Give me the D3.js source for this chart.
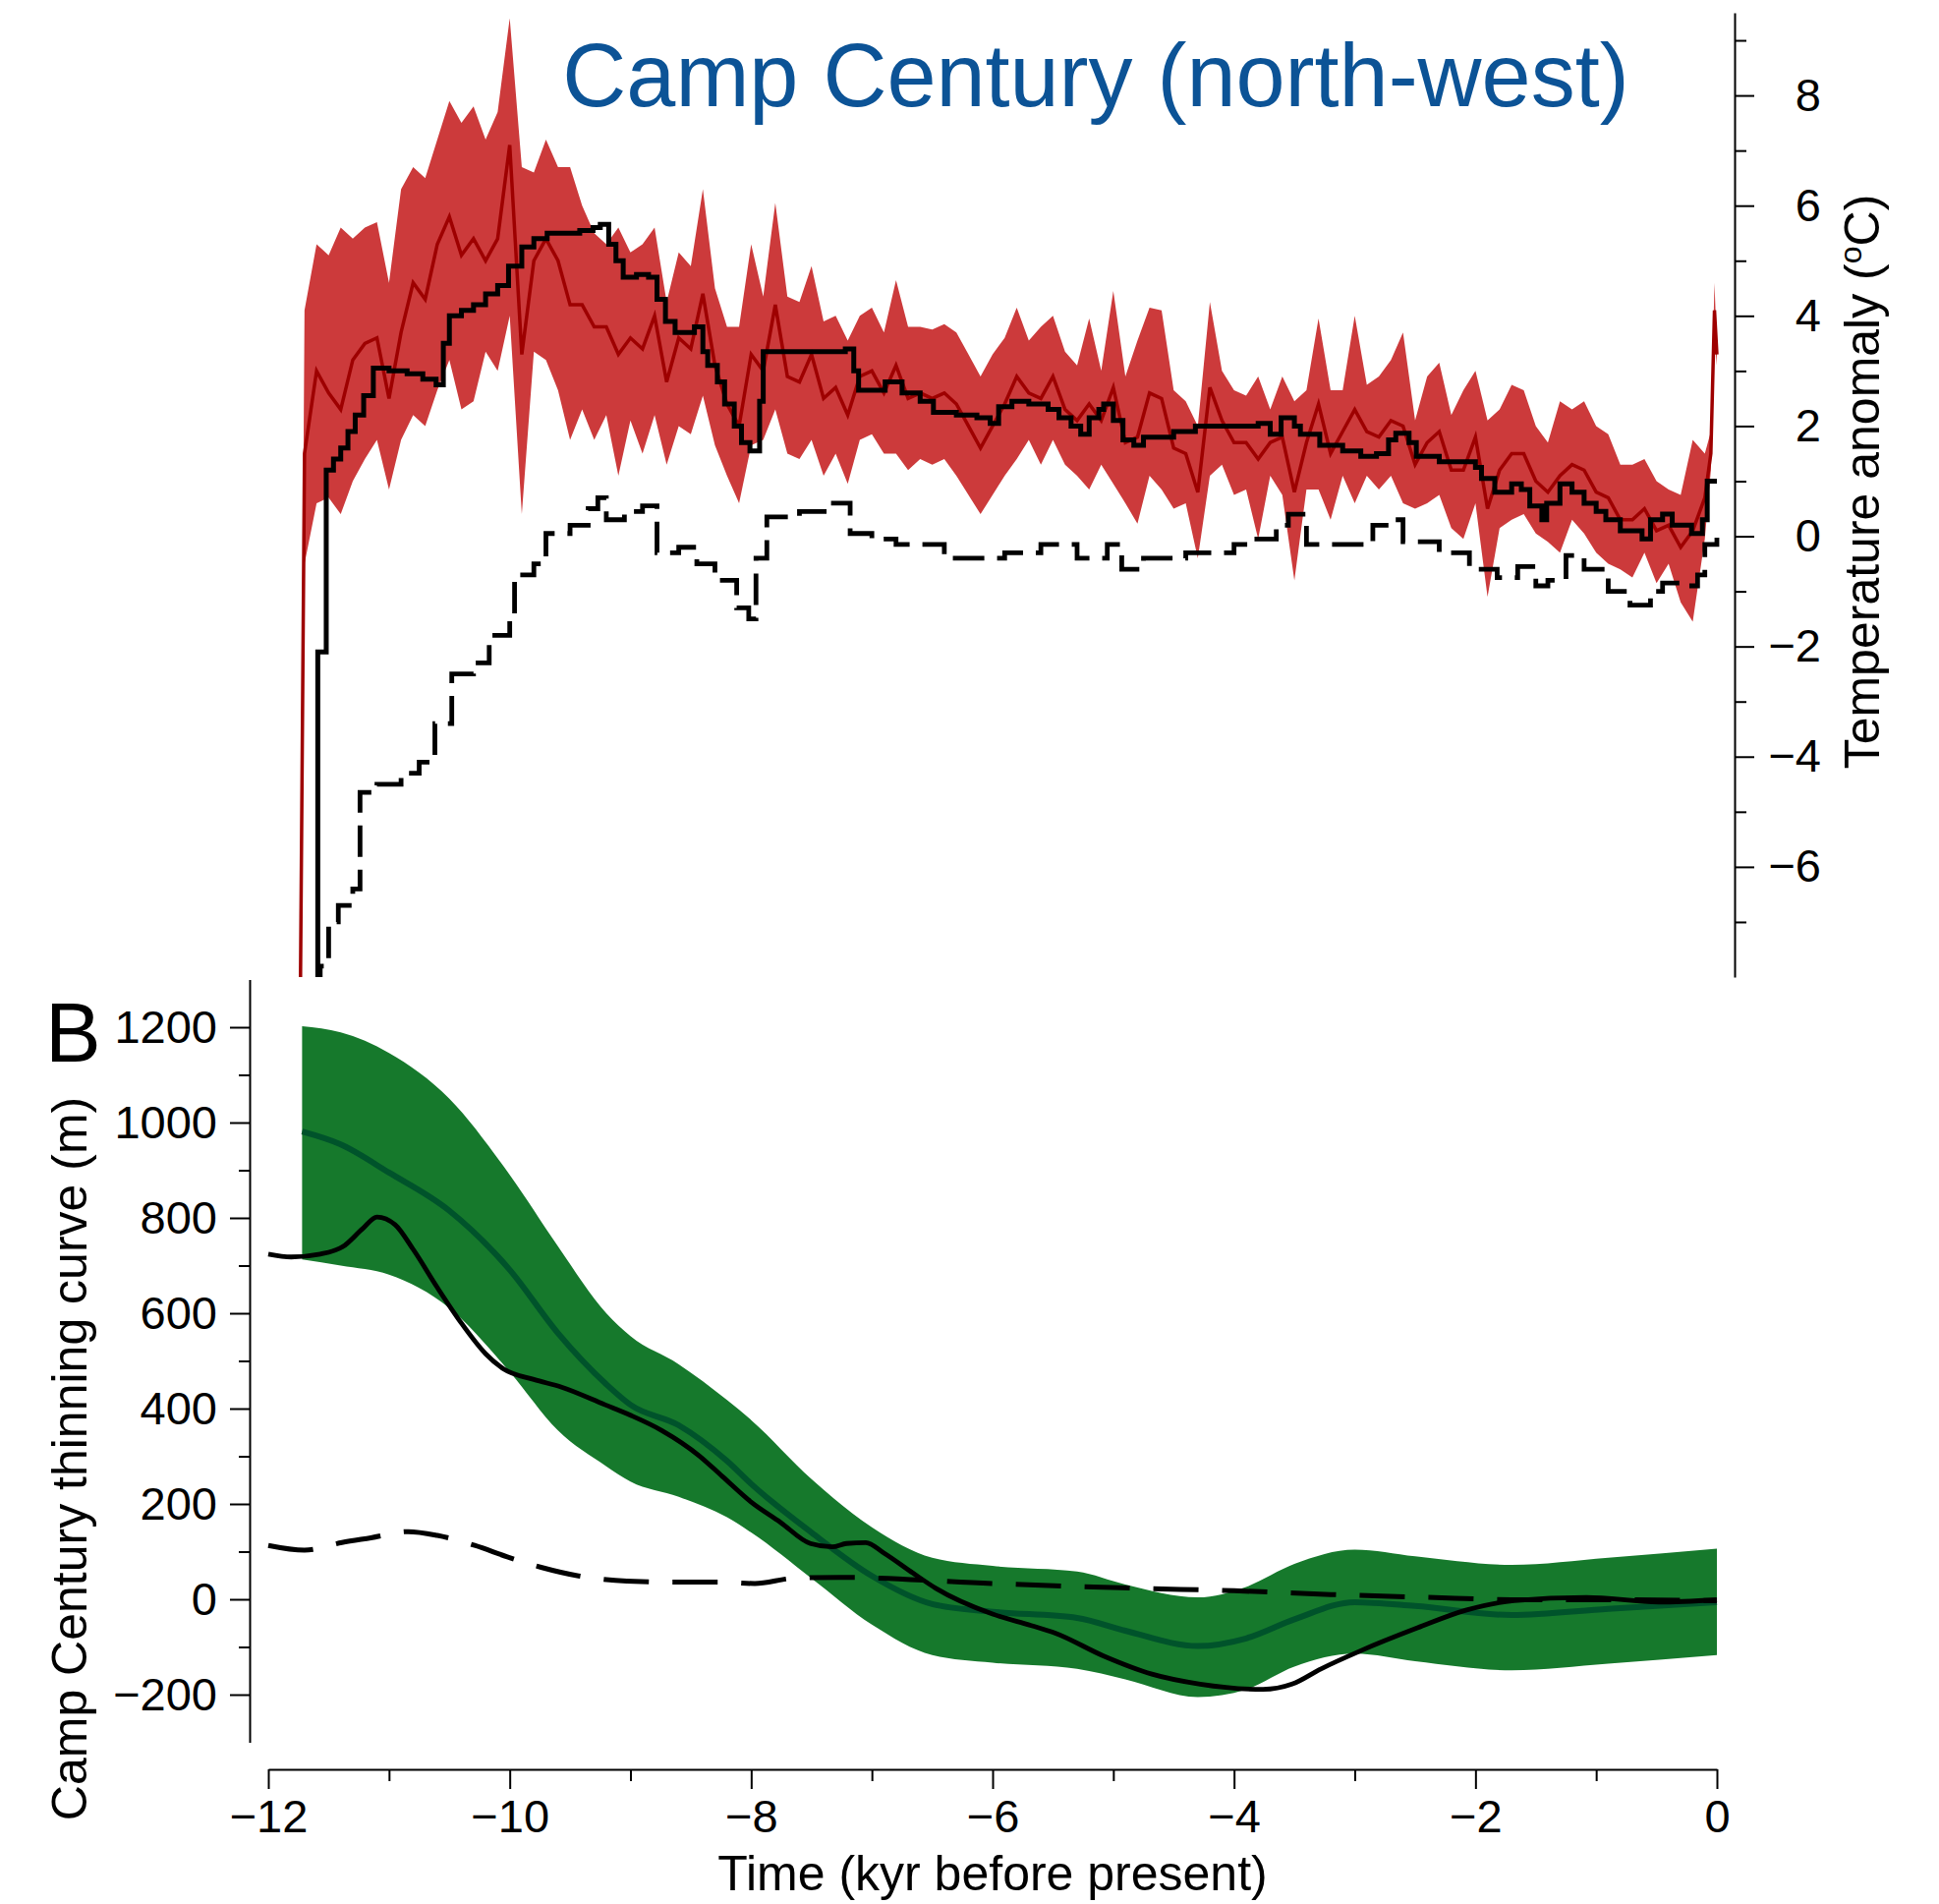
<!DOCTYPE html>
<html>
<head>
<meta charset="utf-8">
<script src="https://cdn.jsdelivr.net/npm/d3@7"></script>
<style>
  body { margin: 0; background: #fff; }
  text { font-family: "Liberation Sans", Arial, sans-serif; }
</style>
</head>
<body>
<script>
// ---- panel A: temperature reconstruction (red band, kyr BP) ----
const redTime = [
  -11.74, -11.7, -11.6, -11.5, -11.4, -11.3, -11.2, -11.1, -11.0,
  -10.9, -10.8, -10.7, -10.6, -10.5, -10.4, -10.3, -10.2, -10.1, -10.0,
  -9.9, -9.8, -9.7, -9.6, -9.5, -9.4, -9.3, -9.2, -9.1, -9.0,
  -8.9, -8.8, -8.7, -8.6, -8.5, -8.4, -8.3, -8.2, -8.1, -8.0,
  -7.9, -7.8, -7.7, -7.6, -7.5, -7.4, -7.3, -7.2, -7.1, -7.0,
  -6.9, -6.8, -6.7, -6.6, -6.5, -6.4, -6.3, -6.2, -6.1, -6.0,
  -5.9, -5.8, -5.7, -5.6, -5.5, -5.4, -5.3, -5.2, -5.1, -5.0,
  -4.9, -4.8, -4.7, -4.6, -4.5, -4.4, -4.3, -4.2, -4.1, -4.0,
  -3.9, -3.8, -3.7, -3.6, -3.5, -3.4, -3.3, -3.2, -3.1, -3.0,
  -2.9, -2.8, -2.7, -2.6, -2.5, -2.4, -2.3, -2.2, -2.1, -2.0,
  -1.9, -1.8, -1.7, -1.6, -1.5, -1.4, -1.3, -1.2, -1.1, -1.0,
  -0.9, -0.8, -0.7, -0.6, -0.5, -0.4, -0.3, -0.2, -0.1, -0.05, -0.02, 0
]
const redUpper = [
  -9, 4.1, 5.3, 5.1, 5.6, 5.4, 5.6, 5.7, 4.6,
  6.3, 6.7, 6.5, 7.2, 7.9, 7.5, 7.8, 7.2, 7.7, 9.4,
  6.7, 6.6, 7.2, 6.7, 6.7, 6.0, 5.5, 5.3, 5.6, 5.15,
  5.3, 5.6, 4.25, 5.15, 4.9, 6.3, 4.5, 3.8, 3.8, 5.3,
  4.35, 6.05, 4.35, 4.25, 4.9, 3.9, 4.0, 3.55, 4.0, 4.15,
  3.7, 4.65, 3.8, 3.8, 3.75, 3.85, 3.7, 3.3, 2.9, 3.3,
  3.6, 4.15, 3.55, 3.8, 4.0, 3.35, 3.1, 3.95, 3.0, 4.45,
  2.9, 3.55, 4.15, 4.1, 2.65, 2.45, 2.0, 4.25, 3.0, 2.65,
  2.55, 2.9, 2.3, 2.9, 2.45, 2.65, 3.95, 2.65, 2.65, 4.0,
  2.75, 2.9, 3.2, 3.7, 2.1, 2.9, 3.15, 2.2, 2.65, 3.0,
  2.1, 2.3, 2.75, 2.65, 2.0, 1.7, 2.45, 2.3, 2.45, 2.0,
  1.85, 1.3, 1.3, 1.4, 1.0, 0.85, 0.75, 1.75, 1.5, 1.9, 4.6, 3.4
]
const redMean = [
  -10, 1.5, 3.0, 2.6, 2.3, 3.2, 3.5, 3.6, 2.5,
  3.7, 4.6, 4.3, 5.3, 5.8, 5.1, 5.4, 5.0, 5.4, 7.1,
  3.3, 5.0, 5.4, 5.0, 4.2, 4.2, 3.8, 3.8, 3.3, 3.6,
  3.4, 4.0, 2.8, 3.6, 3.4, 4.4, 3.1, 2.4, 2.0, 3.3,
  3.0, 4.2, 2.9, 2.8, 3.3, 2.5, 2.7, 2.2, 2.9, 3.0,
  2.6, 3.1, 2.5, 2.6, 2.5, 2.6, 2.4, 2.0, 1.6, 2.0,
  2.4, 2.9, 2.6, 2.5, 2.9, 2.3, 2.1, 2.4, 2.1, 2.7,
  1.7, 1.8, 2.6, 2.5, 1.6, 1.5, 0.8, 2.7, 2.1, 1.7,
  1.7, 1.4, 1.7, 1.8, 0.8, 1.7, 2.4, 1.5, 1.9, 2.3,
  1.9, 1.8, 2.1, 2.0, 1.3, 1.7, 1.9, 1.2, 1.2, 1.8,
  0.5, 1.2, 1.5, 1.5, 1.0, 0.8, 1.1, 1.3, 1.2, 0.8,
  0.7, 0.3, 0.3, 0.5, 0.1, 0.2, -0.2, 0.1, 0.7, 1.5, 4.1, 3.3
]
const redLower = [
  -11, -0.5, 0.6, 0.7, 0.4, 1.0, 1.4, 1.75, 0.85,
  1.75, 2.2, 2.0, 2.65, 3.2, 2.3, 2.45, 3.35, 3.0, 4.0,
  0.4, 3.35, 3.2, 2.65, 1.75, 2.3, 1.75, 2.2, 1.1, 2.1,
  1.5, 2.2, 1.3, 2.0, 1.85, 2.55, 1.65, 1.1, 0.6, 1.65,
  1.75, 2.3, 1.5, 1.4, 1.75, 1.1, 1.5, 0.95, 1.75, 1.85,
  1.5, 1.5, 1.2, 1.4, 1.3, 1.4, 1.1, 0.75, 0.4, 0.75,
  1.1, 1.4, 1.75, 1.3, 1.75, 1.3, 1.1, 0.85, 1.3, 0.95,
  0.6, 0.23, 1.1, 0.85, 0.5, 0.6, -0.4, 1.1, 1.3, 0.75,
  0.85, -0.05, 1.1, 0.75, -0.8, 0.85, 0.85, 0.3, 1.1, 0.6,
  1.1, 0.85, 1.1, 0.6, 0.5, 0.6, 0.75, 0.15, -0.05, 0.6,
  -1.1, 0.15, 0.3, 0.4, 0.05, -0.1, -0.3, 0.3, 0.05, -0.3,
  -0.5, -0.6, -0.75, -0.3, -0.85, -0.5, -1.2, -1.55, -0.05, 1.2, 3.6, 3.1
]

// stepped model temperatures (solid and dashed black)
const solidStepTime = [
  -11.62, -11.59, -11.52, -11.46, -11.40, -11.34, -11.28, -11.21, -11.13, -11.0,
  -10.85, -10.72, -10.61, -10.55, -10.5, -10.4, -10.3, -10.2, -10.1, -10.01,
  -9.9, -9.8, -9.69, -9.55, -9.42, -9.31, -9.25, -9.18, -9.12, -9.06,
  -8.95, -8.85, -8.78, -8.71, -8.63, -8.47, -8.4, -8.36, -8.28, -8.22,
  -8.14, -8.08, -8.01, -7.93, -7.9, -7.22, -7.15, -7.11, -6.89, -6.75,
  -6.6, -6.49, -6.3, -6.13, -6.02, -5.95, -5.84, -5.7, -5.54, -5.45,
  -5.35, -5.27, -5.2, -5.12, -5.08, -5.0, -4.92, -4.83, -4.75, -4.5,
  -4.32, -3.8, -3.7, -3.61, -3.5, -3.45, -3.29, -3.1, -2.95, -2.82,
  -2.72, -2.66, -2.55, -2.49, -2.3, -2.0, -1.95, -1.84, -1.7, -1.62,
  -1.55, -1.45, -1.41, -1.3, -1.2, -1.1, -1.0, -0.92, -0.8, -0.62,
  -0.55, -0.45, -0.37, -0.21, -0.12, -0.08, 0
]
const solidStepTemp = [
  -9, -2.1, 1.2, 1.4, 1.6, 1.9, 2.2, 2.55, 3.05, 3.0,
  2.95, 2.85, 2.75, 3.5, 4.0, 4.1, 4.2, 4.4, 4.55, 4.9,
  5.25, 5.4, 5.5, 5.5, 5.55, 5.6, 5.66, 5.3, 5.0, 4.7,
  4.75, 4.7, 4.3, 3.9, 3.7, 3.8, 3.35, 3.1, 2.8, 2.4,
  2.0, 1.7, 1.55, 2.45, 3.35, 3.4, 3.0, 2.65, 2.8, 2.6,
  2.45, 2.25, 2.2, 2.15, 2.05, 2.35, 2.45, 2.4, 2.3, 2.15,
  2.0, 1.85, 2.15, 2.3, 2.4, 2.1, 1.75, 1.65, 1.8, 1.9,
  2.0, 2.05, 1.85, 2.15, 2.0, 1.85, 1.65, 1.55, 1.45, 1.5,
  1.75, 1.87, 1.7, 1.45, 1.35, 1.25, 1.05, 0.8, 0.95, 0.85,
  0.55, 0.3, 0.6, 0.95, 0.8, 0.6, 0.45, 0.3, 0.1, -0.05,
  0.3, 0.4, 0.2, 0.05, 0.3, 1.0, 1.0
]
const dashStepTime = [
  -11.62, -11.57, -11.5, -11.42, -11.3, -11.24, -11.1, -10.9, -10.75, -10.62,
  -10.48, -10.3, -10.17, -10.0, -9.96, -9.8, -9.7, -9.5, -9.35, -9.27,
  -9.2, -9.05, -8.9, -8.78, -8.6, -8.45, -8.3, -8.12, -8.02, -7.96,
  -7.87, -7.6, -7.35, -7.18, -7.0, -6.8, -6.4, -6.0, -5.9, -5.6,
  -5.3, -5.05, -4.93, -4.75, -4.4, -4.0, -3.87, -3.65, -3.55, -3.4,
  -2.95, -2.85, -2.7, -2.6, -2.3, -2.05, -1.82, -1.65, -1.5, -1.4,
  -1.25, -1.1, -0.9, -0.72, -0.55, -0.45, -0.3, -0.16, -0.1, 0
]
const dashStepTemp = [
  -9, -7.8, -7.0, -6.7, -6.4, -4.65, -4.5, -4.3, -4.1, -3.4,
  -2.5, -2.3, -1.8, -1.5, -0.7, -0.5, 0.05, 0.2, 0.5, 0.7,
  0.3, 0.45, 0.55, -0.3, -0.2, -0.5, -0.8, -1.3, -1.5, -0.4,
  0.35, 0.45, 0.6, 0.05, -0.05, -0.15, -0.4, -0.4, -0.3, -0.15,
  -0.4, -0.15, -0.6, -0.4, -0.3, -0.15, -0.05, 0.2, 0.4, -0.15,
  -0.15, 0.2, 0.3, -0.1, -0.3, -0.6, -0.75, -0.55, -0.9, -0.8,
  -0.35, -0.6, -1.0, -1.25, -1.0, -0.85, -0.9, -0.7, -0.15, 0.0
]

// ---- panel B: thinning curve (m) ----
const greenTime  = [-11.72, -11.4, -11.0, -10.5, -10.0, -9.6, -9.2, -9.0, -8.6, -8.2, -8.0, -7.5, -7.0, -6.5, -6.0, -5.3, -4.9, -4.3, -3.9, -3.5, -3.0, -2.5, -1.7, -0.9, 0]
const greenUpper = [1202, 1189, 1146, 1050, 890, 740, 600, 552, 493, 418, 376, 252, 151, 87, 70, 58, 31, 4, 26, 74, 104, 90, 72, 87, 106]
const greenMean  = [981, 954, 895, 815, 691, 558, 451, 408, 365, 290, 242, 140, 49, -10, -26, -39, -66, -98, -82, -42, -6, -14, -33, -20, -6]
const greenLower = [713, 700, 681, 611, 477, 354, 279, 247, 215, 172, 140, 44, -53, -117, -133, -146, -168, -205, -189, -141, -114, -130, -149, -135, -117]

const thinTime = [-12, -11.81, -11.57, -11.38, -11.22, -11.1, -10.95, -10.8, -10.6, -10.4, -10.2, -10.05, -9.8, -9.57, -9.21, -9.0, -8.74, -8.43, -8.24, -8.0, -7.76, -7.51, -7.33, -7.21, -7.05, -6.9, -6.66, -6.47, -6.0, -5.68, -5.48, -5.08, -4.68, -4.28, -3.76, -3.52, -3.28, -2.96, -2.48, -2.08, -1.68, -1.08, -0.48, 0]
const thinSolid = [724, 718, 724, 740, 777, 802, 786, 734, 654, 579, 515, 483, 461, 445, 408, 386, 354, 301, 258, 204, 162, 117, 110, 117, 119, 97, 55, 23, -31, -55, -71, -119, -157, -178, -189, -178, -146, -109, -60, -23, -3, 4, -6, -1]

const thinDashTime = [-12, -11.7, -11.39, -11.15, -10.84, -10.6, -10.29, -10.02, -9.74, -9.43, -9.03, -8.64, -8.24, -7.97, -7.65, -7.26, -6.0, -4.8, -4.0, -3.2, -2.4, -1.6, -0.8, 0]
const thinDash = [113, 103, 119, 129, 142, 134, 113, 89, 67, 49, 38, 36, 36, 33, 44, 46, 33, 23, 18, 10, 4, -1, -1, -3]

// ticks
const xMajor = [-12, -10, -8, -6, -4, -2, 0]
const xMinor = [-11, -9, -7, -5, -3, -1]
const tMajor = [-6, -4, -2, 0, 2, 4, 6, 8]
const tMinor = [-7, -5, -3, -1, 1, 3, 5, 7, 9]
const mMajor = [-200, 0, 200, 400, 600, 800, 1000, 1200]
const mMinor = [-100, 100, 300, 500, 700, 900, 1100]

const W = 1973, H = 1937

const svg = d3.select("body").append("svg")
    .attr("width", W)
    .attr("height", H)

const x = d3.scaleLinear().domain([-12, 0]).range([273, 1747])
const yT = d3.scaleLinear().domain([-8, 9.5]).range([994, 13])
const yM = d3.scaleLinear().domain([-300, 1300]).range([1772.5, 996.5])

// clip for the top panel
svg.append("defs").append("clipPath")
    .attr("id", "clipTop")
  .append("rect")
    .attr("x", 0).attr("y", 0)
    .attr("width", 1765).attr("height", 994)

const topG = svg.append("g").attr("clip-path", "url(#clipTop)")

const redIdx = d3.range(redTime.length)
const redArea = d3.area()
    .x(i => x(redTime[i]))
    .y0(i => yT(redLower[i]))
    .y1(i => yT(redUpper[i]))

topG.append("path")
    .attr("d", redArea(redIdx))
    .attr("fill", "#cc3a3b")

topG.append("path")
    .attr("d", d3.line().x(i => x(redTime[i])).y(i => yT(redMean[i]))(redIdx))
    .attr("fill", "none")
    .attr("stroke", "#9e0000")
    .attr("stroke-width", 3.5)

const stepLine = (ts, vs) => d3.line()
    .curve(d3.curveStepAfter)
    .x(i => x(ts[i]))
    .y(i => yT(vs[i]))(d3.range(ts.length))

topG.append("path")
    .attr("d", stepLine(dashStepTime, dashStepTemp))
    .attr("fill", "none")
    .attr("stroke", "#000")
    .attr("stroke-width", 4.8)
    .attr("stroke-dasharray", "32,13")

topG.append("path")
    .attr("d", stepLine(solidStepTime, solidStepTemp))
    .attr("fill", "none")
    .attr("stroke", "#000")
    .attr("stroke-width", 5)

// bottom panel
const gIdx = d3.range(greenTime.length)
svg.append("path")
    .attr("d", d3.area()
        .curve(d3.curveMonotoneX)
        .x(i => x(greenTime[i]))
        .y0(i => yM(greenLower[i]))
        .y1(i => yM(greenUpper[i]))(gIdx))
    .attr("fill", "#16792c")

svg.append("path")
    .attr("d", d3.line().curve(d3.curveMonotoneX)
        .x(i => x(greenTime[i])).y(i => yM(greenMean[i]))(gIdx))
    .attr("fill", "none")
    .attr("stroke", "#00532b")
    .attr("stroke-width", 6)

svg.append("path")
    .attr("d", d3.line().curve(d3.curveMonotoneX)
        .x(i => x(thinDashTime[i])).y(i => yM(thinDash[i]))(d3.range(thinDashTime.length)))
    .attr("fill", "none")
    .attr("stroke", "#000")
    .attr("stroke-width", 5)
    .attr("stroke-dasharray", "46,24")

svg.append("path")
    .attr("d", d3.line().curve(d3.curveMonotoneX)
        .x(i => x(thinTime[i])).y(i => yM(thinSolid[i]))(d3.range(thinTime.length)))
    .attr("fill", "none")
    .attr("stroke", "#000")
    .attr("stroke-width", 4.8)

// axes
const fmt = d3.format("d")

function styleAxis(g) {
    g.selectAll("path, line").attr("stroke", "#000").attr("stroke-width", 2)
    g.selectAll("text").attr("font-size", 47).attr("fill", "#000")
        .attr("font-family", '"Liberation Sans", Arial, sans-serif')
}

// right temperature axis
const rA = svg.append("g").attr("transform", "translate(1765,0)")
rA.call(d3.axisRight(yT).tickValues(tMajor).tickFormat(fmt).tickSize(20).tickSizeOuter(0))
rA.append("g").call(d3.axisRight(yT).tickValues(tMinor).tickFormat("").tickSize(12).tickSizeOuter(0))
    .select(".domain").remove()
styleAxis(rA)
rA.selectAll(".tick text").attr("text-anchor", "end").attr("x", 88)

// left thinning axis
const lA = svg.append("g").attr("transform", "translate(254,0)")
lA.call(d3.axisLeft(yM).tickValues(mMajor).tickFormat(fmt).tickSize(20).tickSizeOuter(0).tickPadding(13))
lA.append("g").call(d3.axisLeft(yM).tickValues(mMinor).tickFormat("").tickSize(11).tickSizeOuter(0))
    .select(".domain").remove()
styleAxis(lA)

// bottom time axis
const bA = svg.append("g").attr("transform", "translate(0,1800)")
bA.call(d3.axisBottom(x).tickValues(xMajor).tickFormat(fmt).tickSize(20).tickSizeOuter(0).tickPadding(11))
bA.append("g").call(d3.axisBottom(x).tickValues(xMinor).tickFormat("").tickSize(12).tickSizeOuter(0))
    .select(".domain").remove()
styleAxis(bA)

// titles
svg.append("text")
    .attr("x", 1115).attr("y", 108)
    .attr("text-anchor", "middle")
    .attr("font-size", 90)
    .attr("fill", "#0c5396")
    .text("Camp Century (north-west)")

svg.append("text")
    .attr("x", 46).attr("y", 1080)
    .attr("font-size", 85)
    .text("B")

svg.append("text")
    .attr("x", 1010).attr("y", 1923)
    .attr("text-anchor", "middle")
    .attr("font-size", 50)
    .text("Time (kyr before present)")

svg.append("text")
    .attr("transform", "translate(88,1484) rotate(-90)")
    .attr("text-anchor", "middle")
    .attr("font-size", 50)
    .text("Camp Century thinning curve (m)")

const tt = svg.append("text")
    .attr("transform", "translate(1912,490) rotate(-90)")
    .attr("text-anchor", "middle")
    .attr("font-size", 50)
tt.append("tspan").text("Temperature anomaly (")
tt.append("tspan").attr("font-size", 32).attr("dy", -18).text("o")
tt.append("tspan").attr("dy", 18).text("C)")
</script>
</body>
</html>
